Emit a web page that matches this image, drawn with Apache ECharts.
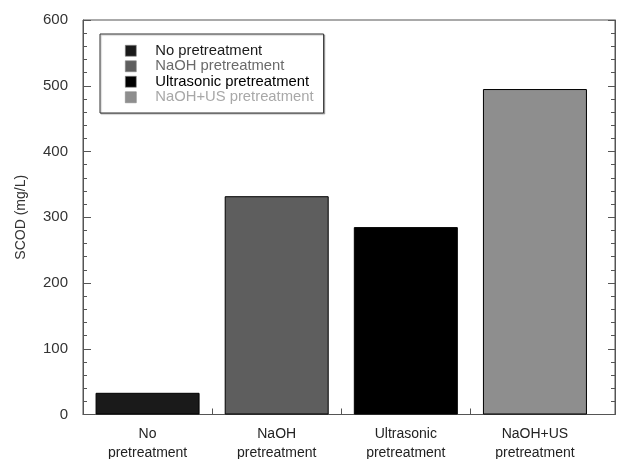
<!DOCTYPE html>
<html>
<head>
<meta charset="utf-8">
<title>SCOD by pretreatment</title>
<script src="https://cdn.jsdelivr.net/npm/echarts@6/dist/echarts.min.js"></script>
<style>
  html, body { margin: 0; padding: 0; background: #fff; }
  #chart { width: 622px; height: 459px; }
</style>
</head>
<body>
<div id="chart"></div>
<script>
// Treatments, their SCOD values (mg/L) and bar colours
const categories = ['No pretreatment', 'NaOH pretreatment', 'Ultrasonic pretreatment', 'NaOH+US pretreatment'];
const axisLabels = ['No\npretreatment', 'NaOH\npretreatment', 'Ultrasonic\npretreatment', 'NaOH+US\npretreatment'];
const scodValues = [33, 332, 285, 495];
const barColors = ['#1a1a1a', '#5e5e5e', '#000000', '#8e8e8e'];
const legendTextColors = ['#1a1a1a', '#6a6a6a', '#000000', '#a8a8a8'];
const yTicks = [0, 100, 200, 300, 400, 500, 600];

const positions = categories.map((_, i) => i + 1);
const boundaries = positions.slice(0, -1).map(p => p + 0.5);

const chart = echarts.init(document.getElementById('chart'));
const fontFamily = 'Liberation Sans, Arial, sans-serif';
const frameColor = '#555';

const series = categories.map((name, i) => ({
  name: name,
  type: 'bar',
  barWidth: 104,
  barGap: '-100%',
  itemStyle: { color: barColors[i], borderColor: '#000', borderWidth: 1 },
  data: [[positions[i], scodValues[i]]]
}));

chart.setOption({
  animation: false,
  textStyle: { fontFamily: fontFamily },
  grid: {
    left: 83, right: 7, top: 20, bottom: 44.5,
    outerBoundsMode: 'none',
    containLabel: false,
    show: true, borderColor: frameColor, borderWidth: 1, backgroundColor: 'transparent'
  },
  legend: {
    orient: 'vertical',
    left: 100, top: 34,
    width: 223,
    padding: [9, 10, 8, 25],
    itemWidth: 11, itemHeight: 11, itemGap: 0,
    backgroundColor: '#fff',
    borderColor: '#333', borderWidth: 1,
    shadowColor: 'rgba(0,0,0,0.25)', shadowOffsetX: 1, shadowOffsetY: 1, shadowBlur: 1,
    icon: 'rect',
    textStyle: { fontSize: 14.8, lineHeight: 15.5, fontFamily: fontFamily, padding: [0, 0, 0, 14] },
    data: categories.map((name, i) => ({
      name: name,
      itemStyle: { borderColor: '#888', borderWidth: 0.6 },
      textStyle: { color: legendTextColors[i] }
    }))
  },
  xAxis: {
    type: 'value',
    min: 0.5, max: 4.62,
    splitLine: { show: false },
    axisLine: { lineStyle: { color: frameColor } },
    axisTick: { inside: true, length: 6, customValues: boundaries, lineStyle: { color: frameColor } },
    axisLabel: {
      customValues: positions,
      formatter: v => axisLabels[Math.round(v) - 1] || '',
      color: '#222', fontSize: 14, lineHeight: 19, margin: 10
    }
  },
  yAxis: [
    {
      type: 'value',
      min: yTicks[0], max: yTicks[yTicks.length - 1], interval: 100,
      name: 'SCOD (mg/L)',
      nameLocation: 'middle', nameGap: 55,
      nameTextStyle: { fontSize: 14, color: '#333' },
      splitLine: { show: false },
      axisLine: { show: true, lineStyle: { color: frameColor } },
      axisTick: { inside: true, length: 8, lineStyle: { color: frameColor } },
      minorTick: { show: true, splitNumber: 5, length: 4, lineStyle: { color: frameColor } },
      axisLabel: { color: '#333', fontSize: 15, margin: 15 }
    },
    {
      type: 'value', position: 'right',
      min: yTicks[0], max: yTicks[yTicks.length - 1], interval: 100,
      splitLine: { show: false },
      axisLine: { show: true, lineStyle: { color: frameColor } },
      axisTick: { inside: true, length: 7, lineStyle: { color: frameColor } },
      minorTick: { show: true, splitNumber: 5, length: 4, lineStyle: { color: frameColor } },
      axisLabel: { show: false }
    }
  ],
  series: series
});
</script>
</body>
</html>
